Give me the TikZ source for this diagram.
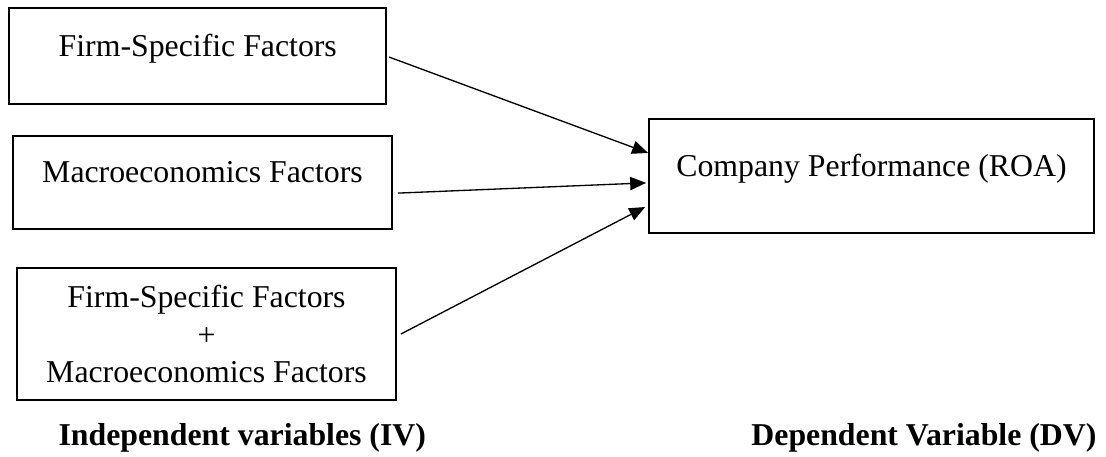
\documentclass[tikz,border=0pt]{standalone}
\usepackage{fontspec}
\setmainfont{Liberation Serif}
\usetikzlibrary{arrows.meta,positioning}

\begin{document}
\begin{tikzpicture}[x=0.3774pt, y=-0.3774pt,
    every node/.style={font=\fontsize{12}{14.15}\selectfont},
    factorbox/.style={draw, line width=0.75pt, inner sep=0pt, align=center},
    oneline/.style={text height=8pt, text depth=8pt},
    varlabel/.style={inner sep=0pt, font=\fontsize{12}{14.15}\selectfont\bfseries},
    link/.style={line width=0.5pt, -{Triangle[length=6pt, width=5pt]}}]
  \useasboundingbox (0,0) rectangle (1106,456);

  \node[factorbox, oneline, minimum width=142.1pt, minimum height=36.2pt]
    (firm) at (197.75,56) {Firm-Specific Factors};
  \node[factorbox, oneline, minimum width=143pt, minimum height=35.1pt]
    (macro) at (202.5,182.5) {Macroeconomics Factors};
  \node[factorbox, minimum width=143pt, minimum height=49.8pt]
    (both) at (206.5,334) {Firm-Specific Factors\\+\\Macroeconomics Factors};
  \node[factorbox, oneline, minimum width=167.9pt, minimum height=43pt]
    (perf) at (871.5,176) {Company Performance (ROA)};

  \draw[link] ([xshift=0.8pt, yshift=-0.4pt]firm.east) -- ([yshift=8.7pt]perf.west);
  \draw[link] ([xshift=1.9pt, yshift=-4pt]macro.east) -- ([xshift=-0.75pt, yshift=-2.6pt]perf.west);
  \draw[link] ([xshift=1.5pt]both.east) -- ([xshift=-1.1pt, yshift=-11.7pt]perf.west);

  \node[varlabel, anchor=base west] (ivlabel) at (58,445) {Independent variables (IV)};
  \node[varlabel, anchor=base east] (dvlabel) at (1097,445) {Dependent Variable (DV)};
\end{tikzpicture}
\end{document}
